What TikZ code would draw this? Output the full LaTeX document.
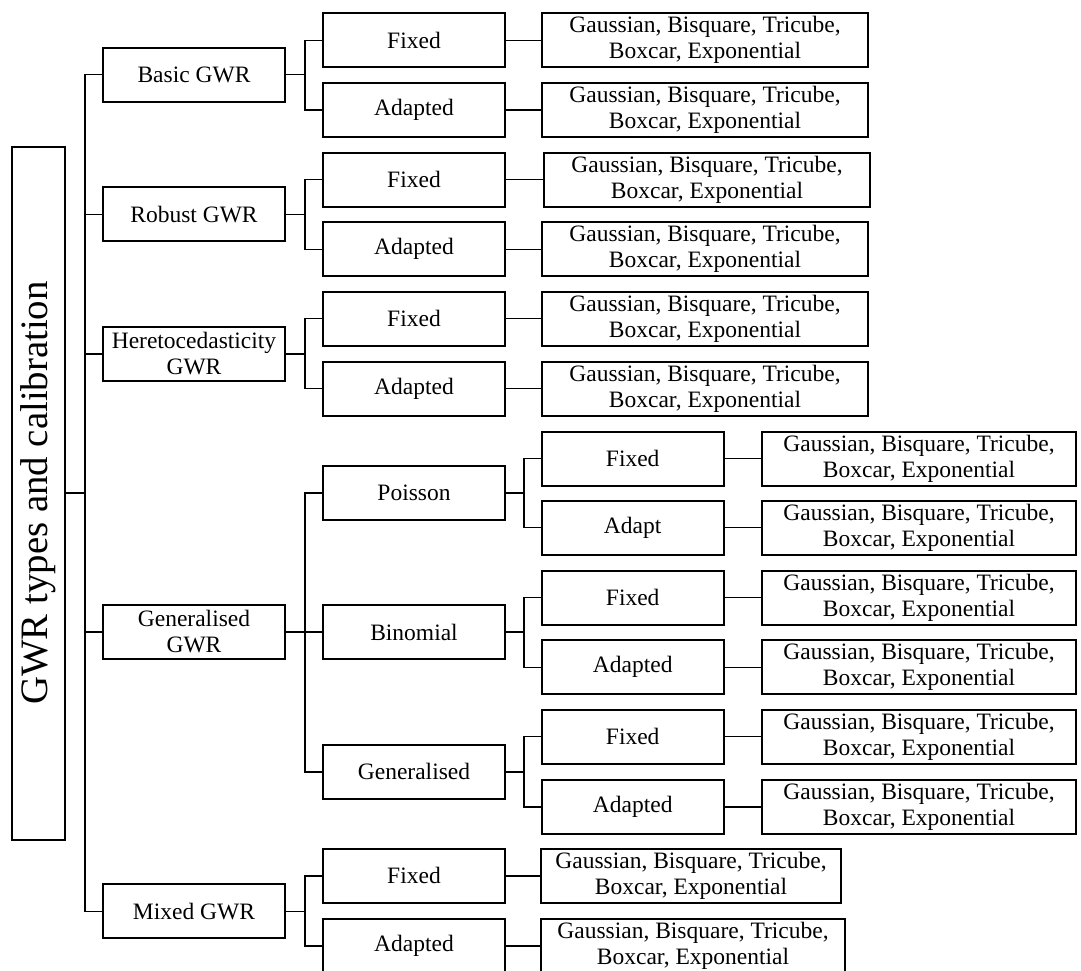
\documentclass[tikz,border=0pt]{standalone}
\usepackage{fontspec}
\setmainfont{Liberation Serif}

\begin{document}
\begin{tikzpicture}[x=0.5pt,y=-0.5pt,
  gbox/.style={draw,line width=1pt,inner sep=1pt,align=center,minimum height=27pt,
    font=\fontsize{11.75}{13}\selectfont},
  typebox/.style={gbox,minimum width=91pt},
  kernbox/.style={gbox,minimum width=163pt},
  wire/.style={line width=0.8pt}]
\useasboundingbox (0,0) rectangle (1081,970);
\clip (0,0) rectangle (1081,970);
% root
\node[gbox,rotate=90,minimum width=346.5pt,minimum height=26.5pt,
  font=\fontsize{19.4}{22}\selectfont] (gwr) at (38.5,493) {GWR types and calibration};
% GWR types
\node[typebox] (basic) at (194,74.5) {Basic GWR};
\node[typebox] (robust) at (194,214.3) {Robust GWR};
\node[typebox] (hetero) at (194,354) {Heretocedasticity\\GWR};
\node[typebox] (general) at (194,632) {Generalised\\GWR};
\node[typebox] (mixed) at (194,911.3) {Mixed GWR};
% bandwidths and families
\node[typebox] (basicfix) at (414,40.3) {Fixed};
\node[typebox] (basicadp) at (414,109.7) {Adapted};
\node[typebox] (robustfix) at (414,179.5) {Fixed};
\node[typebox] (robustadp) at (414,249.3) {Adapted};
\node[typebox] (heterofix) at (414,318.5) {Fixed};
\node[typebox] (heteroadp) at (414,388.5) {Adapted};
\node[typebox] (poisson) at (414,493) {Poisson};
\node[typebox] (binomial) at (414,632) {Binomial};
\node[typebox] (generalised) at (414,771.7) {Generalised};
\node[typebox] (mixedfix) at (414,875.7) {Fixed};
\node[typebox] (mixedadp) at (414,945.7) {Adapted};
% bandwidths of the generalised families
\node[typebox] (poissonfix) at (632.7,458.5) {Fixed};
\node[typebox] (poissonadp) at (632.7,527.5) {Adapt};
\node[typebox] (binomialfix) at (632.7,597.5) {Fixed};
\node[typebox] (binomialadp) at (632.7,667.3) {Adapted};
\node[typebox] (genfix) at (632.7,736.5) {Fixed};
\node[typebox] (genadp) at (632.7,806.7) {Adapted};
% kernels
\node[kernbox] (basicfixk) at (705,40.3) {Gaussian, Bisquare, Tricube,\\Boxcar, Exponential};
\node[kernbox] (basicadpk) at (705,109.7) {Gaussian, Bisquare, Tricube,\\Boxcar, Exponential};
\node[kernbox] (robustfixk) at (707,179.5) {Gaussian, Bisquare, Tricube,\\Boxcar, Exponential};
\node[kernbox] (robustadpk) at (705,249.3) {Gaussian, Bisquare, Tricube,\\Boxcar, Exponential};
\node[kernbox] (heterofixk) at (705,318.5) {Gaussian, Bisquare, Tricube,\\Boxcar, Exponential};
\node[kernbox] (heteroadpk) at (705,388.5) {Gaussian, Bisquare, Tricube,\\Boxcar, Exponential};
\node[kernbox,minimum width=157pt] (poissonfixk) at (919,458.5) {Gaussian, Bisquare, Tricube,\\Boxcar, Exponential};
\node[kernbox,minimum width=157pt] (poissonadpk) at (919,527.5) {Gaussian, Bisquare, Tricube,\\Boxcar, Exponential};
\node[kernbox,minimum width=157pt] (binomialfixk) at (919,597.5) {Gaussian, Bisquare, Tricube,\\Boxcar, Exponential};
\node[kernbox,minimum width=157pt] (binomialadpk) at (919,667.3) {Gaussian, Bisquare, Tricube,\\Boxcar, Exponential};
\node[kernbox,minimum width=157pt] (genfixk) at (919,736.5) {Gaussian, Bisquare, Tricube,\\Boxcar, Exponential};
\node[kernbox,minimum width=157pt] (genadpk) at (919,806.7) {Gaussian, Bisquare, Tricube,\\Boxcar, Exponential};
\node[kernbox,minimum width=150pt] (mixedfixk) at (691,875.7) {Gaussian, Bisquare, Tricube,\\Boxcar, Exponential};
\node[kernbox,minimum width=152pt] (mixedadpk) at (693,945.7) {Gaussian, Bisquare, Tricube,\\Boxcar, Exponential};
% elbows
\draw[wire] (gwr.south) -- ++(19,0) |- (basic.west);
\draw[wire] (gwr.south) -- ++(19,0) |- (robust.west);
\draw[wire] (gwr.south) -- ++(19,0) |- (hetero.west);
\draw[wire] (gwr.south) -- ++(19,0) |- (general.west);
\draw[wire] (gwr.south) -- ++(19,0) |- (mixed.west);
\draw[wire] (basic.east) -- ++(19,0) |- (basicfix.west);
\draw[wire] (basic.east) -- ++(19,0) |- (basicadp.west);
\draw[wire] (robust.east) -- ++(19,0) |- (robustfix.west);
\draw[wire] (robust.east) -- ++(19,0) |- (robustadp.west);
\draw[wire] (hetero.east) -- ++(19,0) |- (heterofix.west);
\draw[wire] (hetero.east) -- ++(19,0) |- (heteroadp.west);
\draw[wire] (general.east) -- ++(19,0) |- (poisson.west);
\draw[wire] (general.east) -- ++(19,0) |- (binomial.west);
\draw[wire] (general.east) -- ++(19,0) |- (generalised.west);
\draw[wire] (mixed.east) -- ++(19,0) |- (mixedfix.west);
\draw[wire] (mixed.east) -- ++(19,0) |- (mixedadp.west);
\draw[wire] (poisson.east) -- ++(18,0) |- (poissonfix.west);
\draw[wire] (poisson.east) -- ++(18,0) |- (poissonadp.west);
\draw[wire] (binomial.east) -- ++(18,0) |- (binomialfix.west);
\draw[wire] (binomial.east) -- ++(18,0) |- (binomialadp.west);
\draw[wire] (generalised.east) -- ++(18,0) |- (genfix.west);
\draw[wire] (generalised.east) -- ++(18,0) |- (genadp.west);
% straight links to the kernels
\draw[wire] (basicfix) -- (basicfixk);
\draw[wire] (basicadp) -- (basicadpk);
\draw[wire] (robustfix) -- (robustfixk);
\draw[wire] (robustadp) -- (robustadpk);
\draw[wire] (heterofix) -- (heterofixk);
\draw[wire] (heteroadp) -- (heteroadpk);
\draw[wire] (poissonfix) -- (poissonfixk);
\draw[wire] (poissonadp) -- (poissonadpk);
\draw[wire] (binomialfix) -- (binomialfixk);
\draw[wire] (binomialadp) -- (binomialadpk);
\draw[wire] (genfix) -- (genfixk);
\draw[wire] (genadp) -- (genadpk);
\draw[wire] (mixedfix) -- (mixedfixk);
\draw[wire] (mixedadp) -- (mixedadpk);
\end{tikzpicture}
\end{document}
